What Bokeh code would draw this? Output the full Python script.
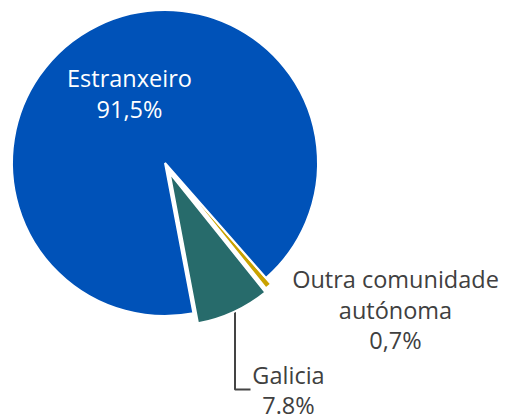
import math
from bokeh.plotting import figure
from bokeh.models import Range1d, ColumnDataSource
from bokeh.embed import file_html
from bokeh.resources import INLINE
from bokeh.core.properties import value

# ---- data ----
categories = ["Galicia", "Outra comunidade autónoma", "Estranxeiro"]
shares = [7.8, 0.7, 91.5]
share_labels = ["7.8%", "0,7%", "91,5%"]
label_lines = [["Galicia"], ["Outra comunidade", "autónoma"], ["Estranxeiro"]]

# ---- style / layout ----
colors = ["#276B6B", "#C9A200", "#0052B8"]
label_colors = ["#404040", "#404040", "#FFFFFF"]
explode = [11, 8, 0]
W, H = 505, 415
cx, cy = 164.5, H - 162.5
R = 153
start_deg = -79.3
# label anchor (x center, first baseline) in plot coords
label_pos = [(288, H - 374), (395, H - 278.5), (129, H - 77.5)]
line_step = 30.5

p = figure(width=W, height=H, output_backend="svg", toolbar_location=None,
           x_range=Range1d(0, W), y_range=Range1d(0, H),
           x_axis_type=None, y_axis_type=None, min_border=0)
p.grid.visible = False
p.outline_line_color = None
p.background_fill_color = "white"
p.border_fill_color = "white"

# connector for Galicia label
p.line(x=[234.5, 234.5, 250], y=[H - 300, H - 389, H - 389],
       line_color="#444444", line_width=2)

total = sum(shares)
a = math.radians(start_deg)
xs, ys, sa, ea = [], [], [], []
for s, off in zip(shares, explode):
    b = a + s / total * 2 * math.pi
    mid = (a + b) / 2
    xs.append(cx + off * math.cos(mid))
    ys.append(cy + off * math.sin(mid))
    sa.append(a)
    ea.append(b)
    a = b

src = ColumnDataSource(dict(x=xs, y=ys, start=sa, end=ea, color=colors, cat=categories))
p.wedge(x="x", y="y", radius=R, start_angle="start", end_angle="end",
        fill_color="color", line_color="white", line_width=2, source=src)

tx, ty, tt, tc = [], [], [], []
for lines, pct, (lx, ly), col in zip(label_lines, share_labels, label_pos, label_colors):
    for i, t in enumerate(lines + [pct]):
        tx.append(lx)
        ty.append(ly - i * line_step)
        tt.append(t)
        tc.append(col)

p.text(x=tx, y=ty, text=tt, text_color=tc, text_font=value("Open Sans"),
       text_font_size="23.5px", text_align="center", text_baseline="alphabetic")

open("out.html", "w").write(file_html(p, INLINE))
